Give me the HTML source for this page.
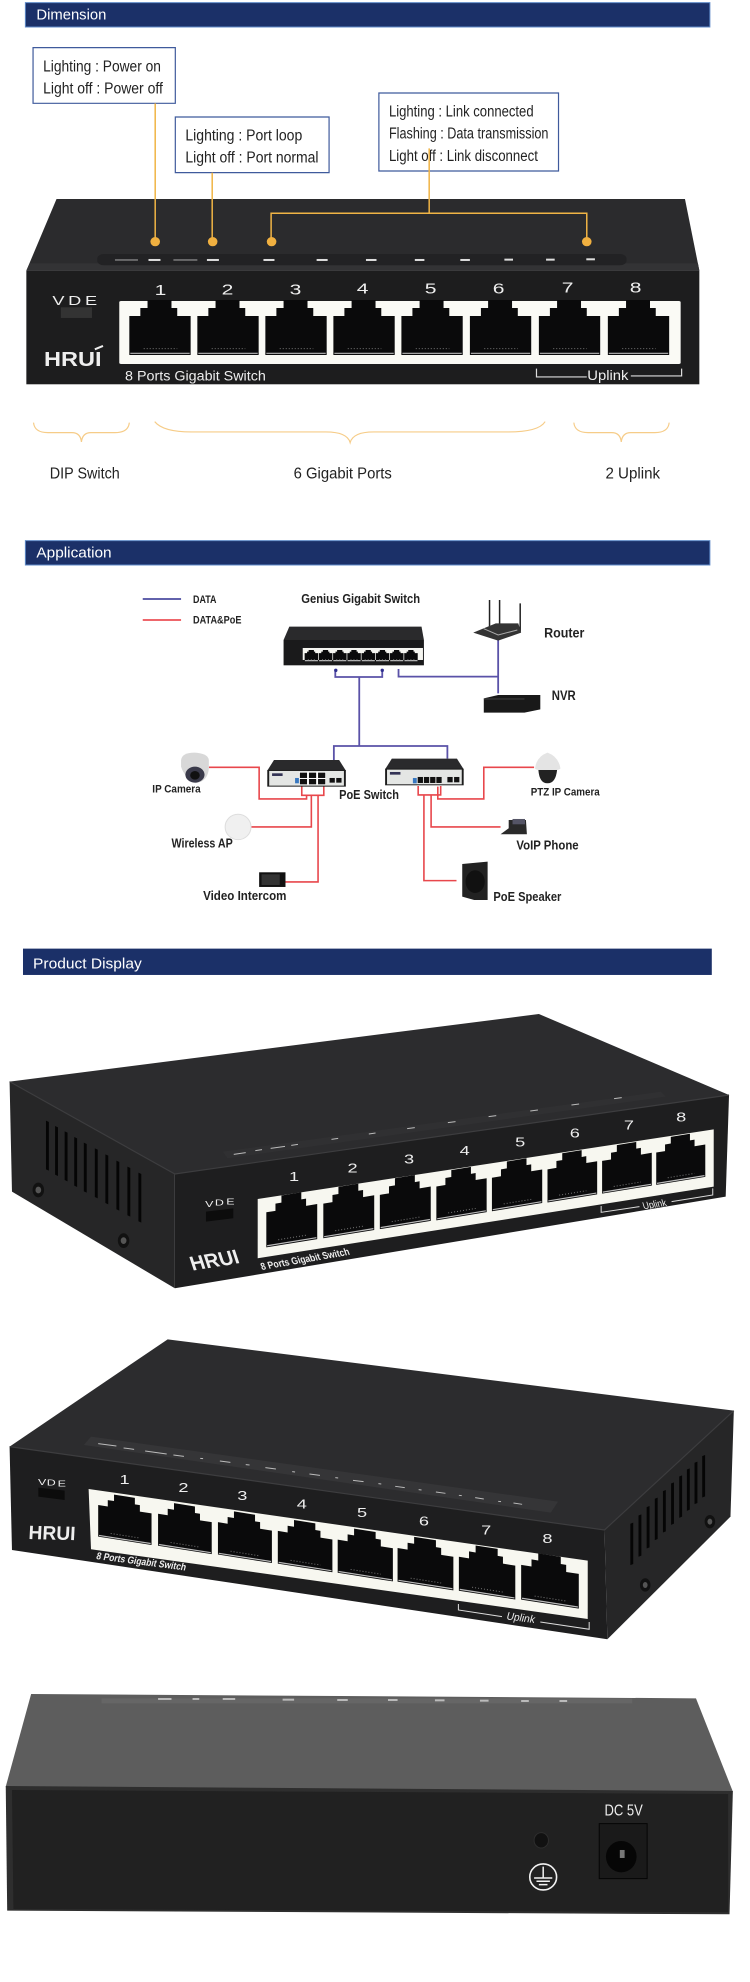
<!DOCTYPE html>
<html><head><meta charset="utf-8"><style>
html,body{margin:0;padding:0;background:#fff}
svg{display:block}
text{font-family:"Liberation Sans",sans-serif}
path,rect,circle,ellipse{vector-effect:non-scaling-stroke}
.h{fill:#fff;font-size:44px}
.b{fill:#222;font-size:46px}
.l{fill:#222;font-size:38px;font-weight:bold}
.w{fill:#eee}
.o{fill:none;stroke:#f0b445;stroke-width:1.5}
.br{fill:none;stroke:#f6cc88;stroke-width:1.2}
.bl{fill:none;stroke:#5a52a8;stroke-width:1.8}
.r{fill:none;stroke:#e8474c;stroke-width:1.6}
.bx{fill:#fff;stroke:#3f5a9c;stroke-width:1.2}
.hd{fill:#1b3068;stroke:#5f8ac8;stroke-width:1}
</style></head><body>
<svg xmlns="http://www.w3.org/2000/svg" width="750" height="1982" viewBox="0 0 750 1982">
<defs>
<g id="p"><path d="M0,137V20H23V-4H38V-28H88V-4H100V20H128V137Z" fill="#0a0a0b"/><path d="M2,132H126" stroke="#bbb" stroke-width="1.2"/><path d="M30,118H100" stroke="#777" stroke-width="1" stroke-dasharray="1 2"/></g>
<g id="v"><path d="M0,0L6,4V150L0,146Z" fill="#050505"/></g>
</defs>
<rect width="750" height="1982" fill="#fff"/>

<!-- Section 1 -->
<g transform="scale(.479,.3333)">
<rect class="hd" x="53" y="8" width="1429" height="73"/>
<text class="h" x="76" y="58" textLength="146" lengthAdjust="spacingAndGlyphs">Dimension</text>
<path d="M118,597H1430L1460,812H55Z" fill="#2b2b2d"/>
<path d="M62,790H1457L1460,812H55Z" fill="#333335"/>
<rect x="55" y="812" width="1405" height="341" fill="#1d1d1e"/>
<rect x="203" y="762" width="1105" height="34" rx="14" fill="#222224"/>
<g fill="#ddd"><rect x="310" y="777" width="25" height="6"/><rect x="432" y="777" width="25" height="6"/><rect x="550" y="777" width="23" height="6"/><rect x="661" y="777" width="23" height="6"/><rect x="764" y="777" width="22" height="6"/><rect x="866" y="777" width="20" height="6"/><rect x="961" y="777" width="20" height="6"/><rect x="1053" y="776" width="18" height="6"/><rect x="1140" y="776" width="18" height="6"/><rect x="1224" y="775" width="18" height="6"/><rect x="240" y="778" width="48" height="4" fill="#888"/><rect x="362" y="778" width="50" height="4" fill="#888"/></g>
<rect class="bx" x="69" y="143" width="297" height="167"/>
<rect class="bx" x="366" y="351" width="321" height="167"/>
<rect class="bx" x="791" y="279" width="375" height="234"/>
<g class="b">
<text x="90" y="215" textLength="246" lengthAdjust="spacingAndGlyphs">Lighting : Power on</text>
<text x="90" y="281" textLength="250" lengthAdjust="spacingAndGlyphs">Light off : Power off</text>
<text x="387" y="422" textLength="244" lengthAdjust="spacingAndGlyphs">Lighting : Port loop</text>
<text x="387" y="488" textLength="278" lengthAdjust="spacingAndGlyphs">Light off : Port normal</text>
<text x="812" y="349" textLength="302" lengthAdjust="spacingAndGlyphs">Lighting : Link connected</text>
<text x="812" y="416" textLength="333" lengthAdjust="spacingAndGlyphs">Flashing : Data transmission</text>
<text x="812" y="483" textLength="311" lengthAdjust="spacingAndGlyphs">Light off : Link disconnect</text>
</g>
<path class="o" d="M324,310V725M443,518V725M566,725V640H1225V725M896,445V640"/>
<g fill="#f0b040"><ellipse cx="324" cy="725" rx="10" ry="14"/><ellipse cx="444" cy="725" rx="10" ry="14"/><ellipse cx="567" cy="725" rx="10" ry="14"/><ellipse cx="1225" cy="725" rx="10" ry="14"/></g>
<rect x="249" y="903" width="1172" height="189" rx="4" fill="#fafaf5"/>
<use href="#p" x="270" y="928"/><use href="#p" x="412" y="928"/><use href="#p" x="554" y="928"/><use href="#p" x="696" y="928"/><use href="#p" x="838" y="928"/><use href="#p" x="981" y="928"/><use href="#p" x="1125" y="928"/><use href="#p" x="1269" y="928"/>
<g class="w" font-size="44" text-anchor="middle"><text x="335" y="885">1</text><text x="475" y="883">2</text><text x="617" y="883">3</text><text x="757" y="881">4</text><text x="899" y="881">5</text><text x="1041" y="880">6</text><text x="1185" y="878">7</text><text x="1327" y="877">8</text></g>
<g class="w" font-size="38" text-anchor="middle"><text x="122" y="915">V</text><text x="156" y="915">D</text><text x="190" y="915">E</text></g>
<rect x="127" y="922" width="65" height="32" fill="#333"/>
<text class="w" x="92" y="1098" font-size="60" font-weight="bold" textLength="120" lengthAdjust="spacingAndGlyphs">HRUI</text>
<path d="M198,1048L215,1038" stroke="#eee" stroke-width="2"/>
<text class="w" x="261" y="1142" font-size="42" textLength="294" lengthAdjust="spacingAndGlyphs">8 Ports Gigabit Switch</text>
<text class="w" x="1226" y="1140" font-size="42" textLength="86" lengthAdjust="spacingAndGlyphs">Uplink</text>
<path d="M1120,1106V1131H1225M1317,1128H1423V1106" fill="none" stroke="#ddd" stroke-width="1.2"/>
<path class="br" d="M70,1268Q72,1298 100,1298H150Q168,1298 170,1326Q172,1298 190,1298H240Q268,1298 270,1268"/>
<path class="br" d="M323,1265Q340,1296 400,1296H680Q725,1296 731,1328Q737,1296 780,1296H1060Q1125,1296 1138,1265"/>
<path class="br" d="M1198,1268Q1200,1298 1228,1298H1277Q1295,1298 1297,1326Q1299,1298 1317,1298H1367Q1395,1298 1397,1268"/>
<g fill="#222" font-size="46">
<text x="104" y="1436" textLength="146" lengthAdjust="spacingAndGlyphs">DIP Switch</text>
<text x="613" y="1436" textLength="205" lengthAdjust="spacingAndGlyphs">6 Gigabit Ports</text>
<text x="1264" y="1436" textLength="114" lengthAdjust="spacingAndGlyphs">2 Uplink</text>
</g>
</g>

<!-- Section 2 -->
<g transform="translate(0,520) scale(.479,.3333)">
<rect class="hd" x="53" y="62" width="1429" height="73"/>
<text class="h" x="76" y="112" textLength="157" lengthAdjust="spacingAndGlyphs">Application</text>
<rect x="48" y="1286" width="1438" height="79" fill="#1b3068"/>
<text class="h" x="69" y="1346" font-size="48" textLength="227" lengthAdjust="spacingAndGlyphs">Product Display</text>
<path d="M298,237H378" stroke="#2f2f90" stroke-width="1.6"/>
<path d="M298,300H378" stroke="#e8343a" stroke-width="1.6"/>
<g class="l">
<text x="403" y="249" font-size="32" textLength="49" lengthAdjust="spacingAndGlyphs">DATA</text>
<text x="403" y="310" font-size="32" textLength="101" lengthAdjust="spacingAndGlyphs">DATA&amp;PoE</text>
<text x="629" y="249" textLength="248" lengthAdjust="spacingAndGlyphs">Genius Gigabit Switch</text>
<text x="1136" y="353" font-size="42" textLength="84" lengthAdjust="spacingAndGlyphs">Router</text>
<text x="1152" y="540" font-size="42" textLength="50" lengthAdjust="spacingAndGlyphs">NVR</text>
<text x="318" y="818" font-size="34" textLength="101" lengthAdjust="spacingAndGlyphs">IP Camera</text>
<text x="708" y="837" textLength="125" lengthAdjust="spacingAndGlyphs">PoE Switch</text>
<text x="1108" y="826" font-size="34" textLength="144" lengthAdjust="spacingAndGlyphs">PTZ IP Camera</text>
<text x="358" y="982" textLength="128" lengthAdjust="spacingAndGlyphs">Wireless AP</text>
<text x="1078" y="989" textLength="130" lengthAdjust="spacingAndGlyphs">VoIP Phone</text>
<text x="424" y="1140" textLength="174" lengthAdjust="spacingAndGlyphs">Video Intercom</text>
<text x="1030" y="1143" textLength="142" lengthAdjust="spacingAndGlyphs">PoE Speaker</text>
</g>
<path class="bl" d="M1040,358V520M832,447V470H1040M700,450V471H798V450M750,471V678M697,720V678H934V716"/>
<ellipse cx="701" cy="451" rx="3.5" ry="5" fill="#2f2f90"/><ellipse cx="798" cy="451" rx="3.5" ry="5" fill="#2f2f90"/>
<path class="r" d="M436,742H541V837H640V825M630,798V826H676V798M525,921H650V826M596,1086H664V826M1115,742H1010V837H914V800M873,798V825H920V798M1045,921H900V825M953,1082H885V825"/>
<!-- genius switch -->
<path d="M604,320H880L885,360H592Z" fill="#2a2a2c"/><rect x="592" y="360" width="293" height="76" fill="#1a1a1b"/>
<rect x="632" y="384" width="251" height="36" fill="#f5f5f0"/>
<g transform="translate(636,390) scale(.22,.2)"><use href="#p" y="28"/><use href="#p" x="135" y="28"/><use href="#p" x="270" y="28"/><use href="#p" x="405" y="28"/><use href="#p" x="540" y="28"/><use href="#p" x="675" y="28"/><use href="#p" x="810" y="28"/><use href="#p" x="945" y="28"/></g>
<!-- router -->
<path d="M1022,240V322M1043,240V322M1086,250V335" stroke="#222" stroke-width="1.5"/>
<path d="M988,338L1035,310H1082L1088,338L1040,362Z" fill="#333"/><path d="M1010,326L1040,345L1080,330" stroke="#aaa" stroke-width="1" fill="none"/>
<!-- NVR -->
<path d="M1010,535L1040,525H1128V568L1095,578H1010Z" fill="#191919"/><rect x="1010" y="536" width="85" height="2" fill="#555"/>
<!-- PoE switches -->
<path d="M572,720H708L722,752H558Z" fill="#2a2a2c"/><rect x="558" y="750" width="164" height="50" fill="#1d1d1d"/><rect x="562" y="753" width="156" height="44" fill="#e4e6e4"/>
<rect x="624" y="756" width="56" height="38" fill="#fff"/>
<g fill="#111"><rect x="626" y="758" width="15" height="16"/><rect x="645" y="758" width="15" height="16"/><rect x="664" y="758" width="15" height="16"/><rect x="626" y="777" width="15" height="16"/><rect x="645" y="777" width="15" height="16"/><rect x="664" y="777" width="15" height="16"/><rect x="688" y="774" width="11" height="14"/><rect x="702" y="774" width="11" height="14"/></g>
<rect x="616" y="774" width="8" height="16" fill="#3878c0"/><rect x="568" y="760" width="22" height="8" fill="#335"/>
<path d="M818,716H954L968,748H804Z" fill="#2a2a2c"/><rect x="804" y="746" width="164" height="50" fill="#1d1d1d"/><rect x="808" y="749" width="156" height="44" fill="#e4e6e4"/>
<g fill="#111"><rect x="872" y="771" width="11" height="18"/><rect x="885" y="771" width="11" height="18"/><rect x="898" y="771" width="11" height="18"/><rect x="911" y="771" width="11" height="18"/><rect x="934" y="771" width="11" height="16"/><rect x="948" y="771" width="11" height="16"/></g>
<rect x="862" y="774" width="8" height="16" fill="#3878c0"/><rect x="814" y="756" width="22" height="8" fill="#335"/>
<!-- camera -->
<path d="M378,720Q380,698 406,698Q434,700 436,720V745Q434,785 408,790Q384,770 378,740Z" fill="#d8d8d8"/><ellipse cx="407" cy="764" rx="20" ry="24" fill="#3a3a4a"/><ellipse cx="407" cy="766" rx="10" ry="13" fill="#111"/>
<ellipse cx="497" cy="921" rx="27" ry="38" fill="#f0f0f0" stroke="#ddd" stroke-width="1"/>
<rect x="541" y="1057" width="55" height="44" fill="#111"/><rect x="546" y="1063" width="38" height="32" fill="#333"/>
<path d="M1062,900H1098L1100,943H1045L1062,925Z" fill="#2a2a2a"/><rect x="1070" y="897" width="26" height="16" fill="#556"/>
<path d="M965,1032L1018,1025V1140L990,1140L965,1130Z" fill="#222"/><ellipse cx="992" cy="1085" rx="20" ry="34" fill="#111"/>
<path d="M1117,745Q1120,710 1143,698Q1166,710 1170,745Q1170,752 1143,752Q1117,752 1117,745Z" fill="#e4e4e4"/><path d="M1124,750H1163Q1160,790 1143,790Q1126,790 1124,750Z" fill="#222"/>
</g>

<!-- Section 3 -->
<g transform="translate(0,1000) scale(.479,.3333)">
<path d="M20,245L1125,42L1522,285L365,522Z" fill="#2c2c2e"/>
<path d="M20,245L365,522V865L25,575Z" fill="#262627"/>
<path d="M365,522L1522,285L1515,590L365,865Z" fill="#1e1e1f"/>
<path d="M20,245L365,522L1522,285" fill="none" stroke="#3d3d3f" stroke-width="1.2"/>
<path d="M465,455L1380,275L1390,290L475,475Z" fill="#303032"/>
<g stroke="#bbb" stroke-width="1"><path d="M488,463l25,-5M533,452l14,-3M565,445l30,-6M608,436l14,-3M692,418l14,-3M770,402l14,-3M850,386l16,-3M935,368l16,-3M1020,350l16,-3M1107,333l16,-3M1193,315l16,-3M1282,296l16,-3"/></g>
<use href="#v" x="96" y="362"/><use href="#v" x="115" y="378"/><use href="#v" x="135" y="394"/><use href="#v" x="155" y="411"/><use href="#v" x="175" y="428"/><use href="#v" x="198" y="445"/><use href="#v" x="220" y="463"/><use href="#v" x="243" y="482"/><use href="#v" x="266" y="500"/><use href="#v" x="289" y="518"/>
<ellipse cx="80" cy="570" rx="12" ry="22" fill="#111"/><ellipse cx="80" cy="570" rx="6" ry="10" fill="#555"/><ellipse cx="258" cy="722" rx="12" ry="22" fill="#111"/><ellipse cx="258" cy="722" rx="6" ry="10" fill="#555"/>
<path d="M538,597L1490,388V560L538,775Z" fill="#f7f7f0"/>
<use href="#p" transform="matrix(.83,-.195,0,.9,556,619)"/><use href="#p" transform="matrix(.83,-.195,0,.89,675,593)"/><use href="#p" transform="matrix(.83,-.195,0,.88,793,567)"/><use href="#p" transform="matrix(.82,-.193,0,.87,911,542)"/><use href="#p" transform="matrix(.82,-.193,0,.86,1027,516)"/><use href="#p" transform="matrix(.81,-.19,0,.85,1143,491)"/><use href="#p" transform="matrix(.81,-.19,0,.84,1257,466)"/><use href="#p" transform="matrix(.8,-.188,0,.83,1370,441)"/>
<g class="w" font-size="38" text-anchor="middle"><text x="614" y="543">1</text><text x="736" y="517">2</text><text x="854" y="491">3</text><text x="970" y="465">4</text><text x="1086" y="439">5</text><text x="1200" y="413">6</text><text x="1313" y="389">7</text><text x="1422" y="364">8</text></g>
<g class="w" font-size="26" text-anchor="middle"><text x="437" y="621">V</text><text x="458" y="617">D</text><text x="481" y="614">E</text></g>
<path d="M430,635L487,625V655L430,665Z" fill="#0c0c0c"/>
<text class="w" transform="translate(402,812) rotate(-13)" font-size="60" font-weight="bold" textLength="103" lengthAdjust="spacingAndGlyphs">HRUI</text>
<text class="w" transform="translate(547,810) rotate(-14)" font-size="30" font-weight="bold" textLength="190" lengthAdjust="spacingAndGlyphs">8 Ports Gigabit Switch</text>
<text class="w" transform="translate(1344,628) rotate(-12)" font-size="30" textLength="50" lengthAdjust="spacingAndGlyphs">Uplink</text>
<path d="M1255,618V637L1335,620M1402,605L1488,585V565" fill="none" stroke="#ddd" stroke-width="1"/>
</g>

<!-- Section 4 -->
<g transform="translate(0,1320) scale(.479,.3333)">
<path d="M20,380L350,58L1532,272L1262,630Z" fill="#2c2c2e"/>
<path d="M20,380L1262,630L1268,958L25,690Z" fill="#1e1e1f"/>
<path d="M1262,630L1532,272L1525,590L1268,958Z" fill="#262627"/>
<path d="M20,380L1262,630L1532,272" fill="none" stroke="#3d3d3f" stroke-width="1.2"/>
<path d="M190,350L1165,545L1150,578L175,375Z" fill="#353537"/>
<g stroke="#bbb" stroke-width="1"><path d="M205,371l38,7M258,384l22,4M303,393l45,9M362,405l22,4M418,415l6,1M459,423l22,4M513,434l8,1M554,443l22,4M610,455l6,1M646,462l22,4M700,473l6,1M737,481l22,4M790,491l6,1M825,499l20,4M874,509l6,1M910,516l20,4M958,526l6,1M992,533l18,4M1040,544l6,1M1072,549l18,4"/></g>
<use href="#v" transform="translate(1472,405) scale(-1,.85)"/><use href="#v" transform="translate(1456,425) scale(-1,.85)"/><use href="#v" transform="translate(1440,445) scale(-1,.85)"/><use href="#v" transform="translate(1424,466) scale(-1,.85)"/><use href="#v" transform="translate(1407,487) scale(-1,.85)"/><use href="#v" transform="translate(1390,510) scale(-1,.85)"/><use href="#v" transform="translate(1373,533) scale(-1,.85)"/><use href="#v" transform="translate(1356,558) scale(-1,.85)"/><use href="#v" transform="translate(1339,583) scale(-1,.85)"/><use href="#v" transform="translate(1322,608) scale(-1,.85)"/>
<ellipse cx="1482" cy="605" rx="11" ry="20" fill="#111"/><ellipse cx="1482" cy="605" rx="5" ry="9" fill="#555"/><ellipse cx="1347" cy="795" rx="11" ry="20" fill="#111"/><ellipse cx="1347" cy="795" rx="5" ry="9" fill="#555"/>
<path d="M185,507L1227,722V897L190,688Z" fill="#f7f7f0"/>
<use href="#p" transform="matrix(.87,.196,0,.81,205,539)"/><use href="#p" transform="matrix(.875,.197,0,.82,330,565)"/><use href="#p" transform="matrix(.88,.198,0,.83,455,590)"/><use href="#p" transform="matrix(.89,.2,0,.84,580,616)"/><use href="#p" transform="matrix(.9,.2025,0,.85,705,642)"/><use href="#p" transform="matrix(.91,.205,0,.86,830,667)"/><use href="#p" transform="matrix(.92,.207,0,.87,958,693)"/><use href="#p" transform="matrix(.94,.2115,0,.89,1088,717)"/>
<g class="w" font-size="38" text-anchor="middle"><text x="260" y="492">1</text><text x="383" y="516">2</text><text x="506" y="540">3</text><text x="630" y="565">4</text><text x="756" y="591">5</text><text x="885" y="617">6</text><text x="1015" y="643">7</text><text x="1143" y="669">8</text></g>
<g class="w" font-size="26" text-anchor="middle"><text x="88" y="495">V</text><text x="107" y="497">D</text><text x="129" y="500">E</text></g>
<path d="M80,503L135,512V540L80,530Z" fill="#0c0c0c"/>
<text class="w" transform="translate(59,657) rotate(2)" font-size="58" font-weight="bold" textLength="98" lengthAdjust="spacingAndGlyphs">HRUI</text>
<text class="w" transform="translate(200,717) rotate(10.5)" font-size="30" font-weight="bold" textLength="190" lengthAdjust="spacingAndGlyphs">8 Ports Gigabit Switch</text>
<text class="w" transform="translate(1056,898) rotate(11)" font-size="32" textLength="60" lengthAdjust="spacingAndGlyphs">Uplink</text>
<path d="M957,852V870L1048,890M1128,906L1230,928V906" fill="none" stroke="#ddd" stroke-width="1"/>
</g>

<!-- Section 5 -->
<g transform="translate(0,1670) scale(.479,.3333)">
<path d="M65,72L1453,85L1530,365L12,350Z" fill="#5d5d5d"/>
<path d="M212,85H1320V100H212Z" fill="#666"/>
<g fill="#bbb"><rect x="330" y="84" width="28" height="6"/><rect x="402" y="84" width="14" height="6"/><rect x="465" y="84" width="26" height="6"/><rect x="590" y="86" width="24" height="6"/><rect x="704" y="87" width="22" height="6"/><rect x="810" y="87" width="20" height="6"/><rect x="908" y="88" width="20" height="6"/><rect x="1002" y="89" width="18" height="6"/><rect x="1088" y="90" width="16" height="6"/><rect x="1168" y="90" width="16" height="6"/></g>
<path d="M12,348L1530,363L1523,733L15,722Z" fill="#2e2e2e"/>
<path d="M25,360L1520,372V727L28,717Z" fill="#212121"/>
<text class="w" x="1262" y="436" font-size="46" textLength="80" lengthAdjust="spacingAndGlyphs">DC 5V</text>
<rect x="1251" y="461" width="100" height="165" fill="#1a1a1a" stroke="#050505" stroke-width="1"/>
<ellipse cx="1297" cy="560" rx="32" ry="47" fill="#060606"/><rect x="1294" y="540" width="10" height="24" fill="#777"/>
<ellipse cx="1130" cy="511" rx="15" ry="23" fill="#111" stroke="#2d2d2d" stroke-width="1"/>
<ellipse cx="1134" cy="621" rx="28" ry="39" fill="none" stroke="#f2f2f2" stroke-width="1.6"/>
<path d="M1134,590V624M1115,624H1153M1120,634H1148M1125,644H1143" stroke="#f2f2f2" stroke-width="1.5"/>
</g>
</svg>
</body></html>
